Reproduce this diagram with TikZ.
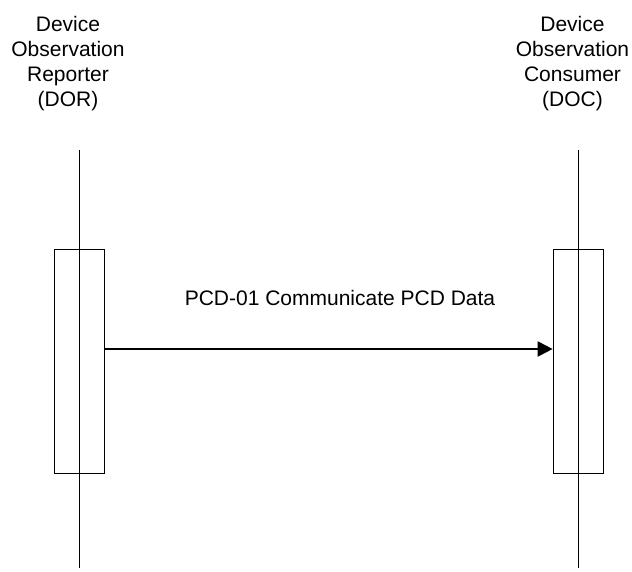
\documentclass[tikz,border=0pt]{standalone}
\usepackage{fontspec}
\setmainfont{Liberation Sans}
\usetikzlibrary{arrows.meta}
\begin{document}
\begin{tikzpicture}[x=1pt,y=-1pt,
  actor/.style={anchor=north, inner sep=0pt, align=center, font=\fontsize{21}{25}\selectfont},
  lifeline/.style={line width=1.3pt},
  actbox/.style={draw, line width=1.3pt, fill=none, minimum width=50pt, minimum height=224pt, inner sep=0pt},
  msg/.style={line width=2pt, -{Triangle[length=15pt,width=15pt]}},
  msglabel/.style={anchor=base, inner sep=0pt, font=\fontsize{21}{25}\selectfont}]
\useasboundingbox (0,0) rectangle (632,571);
% actors
\node[actor] (dor) at (68,16) {Device\\Observation\\Reporter\\(DOR)};
\node[actor] (doc) at (572.5,16) {Device\\Observation\\Consumer\\(DOC)};
% lifelines
\coordinate (dortop) at (79.3,150);
\coordinate (dorbot) at (79.3,568);
\coordinate (doctop) at (578.3,150);
\coordinate (docbot) at (578.3,568);
\draw[lifeline] (dortop) -- (dorbot);
\draw[lifeline] (doctop) -- (docbot);
% activation boxes
\node[actbox] (dorbox) at (79.3,361.7) {};
\node[actbox] (docbox) at (578.3,361.7) {};
% message
\draw[msg] (dorbox.east |- 0,349) -- (docbox.west |- 0,349);
\node[msglabel] (lbl) at (340,305) {PCD-01 Communicate PCD Data};
\end{tikzpicture}
\end{document}
